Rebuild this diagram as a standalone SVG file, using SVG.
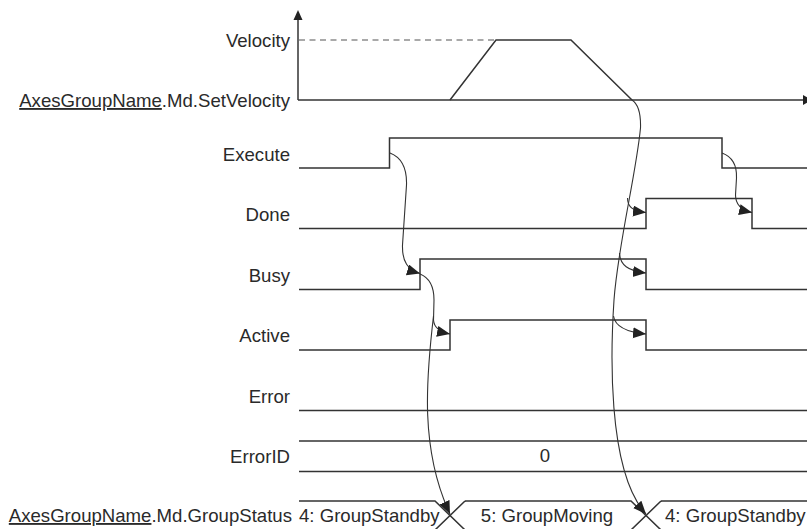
<svg xmlns="http://www.w3.org/2000/svg" width="807" height="529" viewBox="0 0 807 529">
<defs>
<style>
.lbl{font-family:"Liberation Sans",Arial,sans-serif;font-size:18.6px;fill:#2a2a2a;}
.r{text-anchor:end;}
.m{text-anchor:middle;}
.u{text-decoration:underline;}
.sig{fill:none;stroke:#333;stroke-width:1.5;}
.dash{fill:none;stroke:#555;stroke-width:1.2;stroke-dasharray:6 4.5;}
.cur{fill:none;stroke:#333;stroke-width:1.1;}
.arr{marker-end:url(#ah);}
</style>
<marker id="ah" markerUnits="userSpaceOnUse" markerWidth="14" markerHeight="12" refX="13" refY="5.5" orient="auto">
<path d="M0,0 L13,5.5 L0,11 z" fill="#222"/>
</marker>
</defs>
<rect width="807" height="529" fill="#fff"/>

<g id="axes">
<line class="sig" x1="298" y1="100" x2="298" y2="18"/>
<polygon points="298,10 293.5,20 302.5,20" fill="#222"/>
<line class="sig" x1="298" y1="100" x2="804" y2="100"/>
<polygon points="812,100 803,95 803,105" fill="#222"/>
<line class="dash" x1="299" y1="40" x2="495" y2="40"/>
</g>

<g id="velocity">
<text class="lbl r" x="290" y="47">Velocity</text>
<text class="lbl r" x="290" y="107"><tspan class="u">AxesGroupName</tspan>.Md.SetVelocity</text>
<polyline class="sig" points="450,100 496,40 571,40 632,100"/>
</g>

<g id="execute">
<text class="lbl r" x="290" y="161">Execute</text>
<polyline class="sig" points="299,168 389.5,168 389.5,138 722,138 722,168 807,168"/>
</g>

<g id="done">
<text class="lbl r" x="290" y="221">Done</text>
<polyline class="sig" points="299,228.5 646,228.5 646,198.5 752,198.5 752,228.5 807,228.5"/>
</g>

<g id="busy">
<text class="lbl r" x="290" y="282">Busy</text>
<polyline class="sig" points="299,289.5 420,289.5 420,259 646,259 646,289.5 807,289.5"/>
</g>

<g id="active">
<text class="lbl r" x="290" y="342">Active</text>
<polyline class="sig" points="299,350 450,350 450,320 646,320 646,350 807,350"/>
</g>

<g id="error">
<text class="lbl r" x="290" y="403">Error</text>
<line class="sig" x1="299" y1="410.5" x2="807" y2="410.5"/>
</g>

<g id="errorid">
<text class="lbl r" x="290" y="463">ErrorID</text>
<line class="sig" x1="299" y1="441" x2="807" y2="441"/>
<line class="sig" x1="299" y1="471.5" x2="807" y2="471.5"/>
<text class="lbl m" x="545" y="462">0</text>
</g>

<g id="groupstatus">
<text class="lbl r" x="292" y="522"><tspan class="u">AxesGroupName</tspan>.Md.GroupStatus</text>
<path class="sig" d="M299,501 L435,501 L465,530 M465,501 L435,530 M465,501 L631,501 L661,530 M661,501 L631,530 M661,501 L807,501"/>
<text class="lbl" x="299" y="522">4: GroupStandby</text>
<text class="lbl m" x="547" y="522">5: GroupMoving</text>
<text class="lbl" x="665" y="522">4: GroupStandby</text>
</g>

<g id="connectors">
<path class="cur arr" d="M390,153 C403,158 407,170 406.5,185 L402.5,245 C402,262 408,270 420,273.5"/>
<path class="cur arr" d="M420,274 C430,278 434,288 434,300 L433.5,320 C434,328 440,332 450,334"/>
<path class="cur arr" d="M433.5,316 C426,380 420,450 450,514"/>
<path class="cur arr" d="M632,100 C638,104 641,112 640.5,128 C636,175 618,245 614,300 C611,345 606,470 646,514"/>
<path class="cur arr" d="M627.5,198 C627.5,207 633,211 646,212.5"/>
<path class="cur arr" d="M619.5,253 C620,265 628,271 646,273"/>
<path class="cur arr" d="M613.5,316 C615,326 625,332 646,334"/>
<path class="cur arr" d="M722,153 C733,157 737,166 736.5,178 L735.5,195 C735.5,205 741,210 752,212.5"/>
</g>
</svg>
